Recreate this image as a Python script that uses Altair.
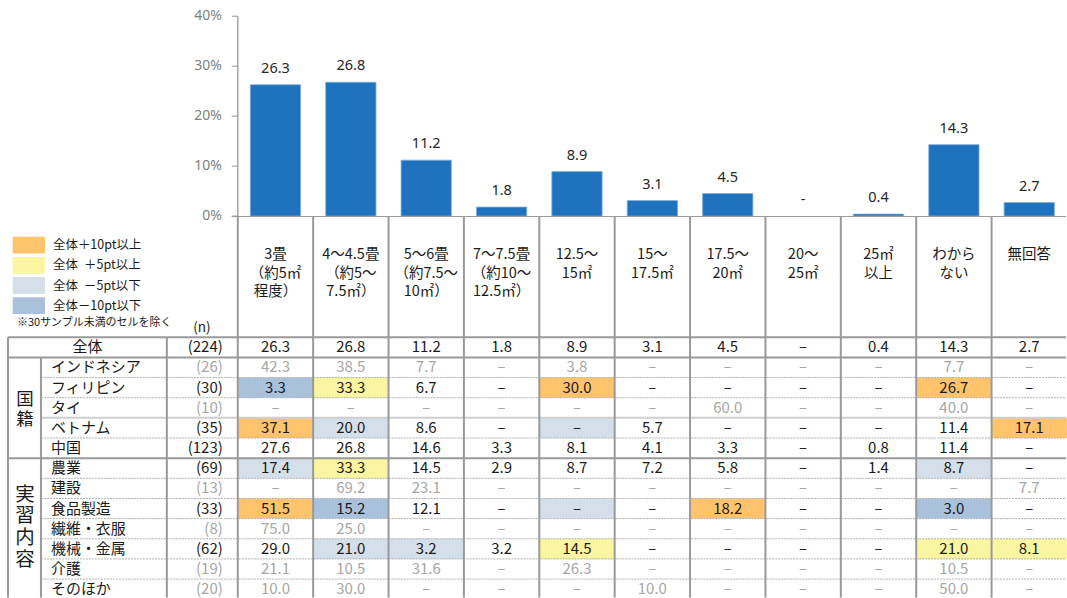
import altair as alt
import pandas as pd

# ---------------- data ----------------
col_labels = [
    ["3畳", "（約5㎡", "程度）"],
    ["4～4.5畳", "（約5～", "7.5㎡）"],
    ["5～6畳", "（約7.5～", "10㎡）"],
    ["7～7.5畳", "（約10～", "12.5㎡）"],
    ["12.5～", "15㎡"],
    ["15～", "17.5㎡"],
    ["17.5～", "20㎡"],
    ["20～", "25㎡"],
    ["25㎡", "以上"],
    ["わから", "ない"],
    ["無回答"],
]
total_label = "全体"
total_n = 224
total_values = [26.3, 26.8, 11.2, 1.8, 8.9, 3.1, 4.5, 0.0, 0.4, 14.3, 2.7]

group_labels = ["国籍", "実習内容"]
group_sizes = [5, 7]
row_labels = ["インドネシア", "フィリピン", "タイ", "ベトナム", "中国",
              "農業", "建設", "食品製造", "繊維・衣服", "機械・金属", "介護", "そのほか"]
row_n = [26, 30, 10, 35, 123, 69, 13, 33, 8, 62, 19, 20]
row_values = [
    [42.3, 38.5, 7.7, 0.0, 3.8, 0.0, 0.0, 0.0, 0.0, 7.7, 0.0],
    [3.3, 33.3, 6.7, 0.0, 30.0, 0.0, 0.0, 0.0, 0.0, 26.7, 0.0],
    [0.0, 0.0, 0.0, 0.0, 0.0, 0.0, 60.0, 0.0, 0.0, 40.0, 0.0],
    [37.1, 20.0, 8.6, 0.0, 0.0, 5.7, 0.0, 0.0, 0.0, 11.4, 17.1],
    [27.6, 26.8, 14.6, 3.3, 8.1, 4.1, 3.3, 0.0, 0.8, 11.4, 0.0],
    [17.4, 33.3, 14.5, 2.9, 8.7, 7.2, 5.8, 0.0, 1.4, 8.7, 0.0],
    [0.0, 69.2, 23.1, 0.0, 0.0, 0.0, 0.0, 0.0, 0.0, 0.0, 7.7],
    [51.5, 15.2, 12.1, 0.0, 0.0, 0.0, 18.2, 0.0, 0.0, 3.0, 0.0],
    [75.0, 25.0, 0.0, 0.0, 0.0, 0.0, 0.0, 0.0, 0.0, 0.0, 0.0],
    [29.0, 21.0, 3.2, 3.2, 14.5, 0.0, 0.0, 0.0, 0.0, 21.0, 8.1],
    [21.1, 10.5, 31.6, 0.0, 26.3, 0.0, 0.0, 0.0, 0.0, 10.5, 0.0],
    [10.0, 30.0, 0.0, 0.0, 0.0, 10.0, 0.0, 0.0, 0.0, 50.0, 0.0],
]
y_ticks = [0, 10, 20, 30, 40]
legend_labels = ["全体＋10pt以上", "全体\u2002＋5pt以上", "全体\u2002－5pt以下", "全体－10pt以下"]
legend_colors = ["#FFC36B", "#FAF5A0", "#D5DFE9", "#AAC1DC"]
legend_limits = [10, 5, -5, -10]
min_n = 30
note_text = "※30サンプル未満のセルを除く"
n_header = "(n)"

# ---------------- layout (pixels -> scale units) ----------------
W = 1067
TOP_H = 216
BOT_H = 382
X0 = 238.0      # left edge of first answer column
COL_W = 75.45
Y0 = 337.3      # top of the 全体 row
ROW_H = 20.17
PX_PER_PCT = 5.0
JP = "Noto Sans CJK JP"
BLACK = "#1a1a1a"
GRAY = "#a6a6a6"
LINE = "#9a9a9a"


def ux(px):
    return (px - X0) / COL_W


def uy(py):
    return (py - Y0) / ROW_H


x_dom = [ux(0), ux(W)]
xs = alt.Scale(domain=x_dom, nice=False, zero=False)
yts = alt.Scale(domain=[0, TOP_H / PX_PER_PCT], nice=False, zero=False)
ybs = alt.Scale(domain=[uy(TOP_H), uy(TOP_H + BOT_H)], nice=False, zero=False, reverse=True)


def X(f):
    return alt.X(f, scale=xs, axis=None)


def YT(f):
    return alt.Y(f, scale=yts, axis=None)


def YB(f):
    return alt.Y(f, scale=ybs, axis=None)


ncol = len(total_values)

# ---------------- top: bar chart ----------------
bar_frac = 0.667
bars_df = pd.DataFrame({"i": list(range(ncol)), "value": total_values})
bars_df["x1"] = bars_df["i"] + (1 - bar_frac) / 2
bars_df["x2"] = bars_df["i"] + 1 - (1 - bar_frac) / 2
bars_df["xc"] = bars_df["i"] + 0.5
bars_df["base"] = 0.0
bars_df["label"] = ["-" if v == 0 else f"{v:.1f}" for v in total_values]

bars = alt.Chart(bars_df).transform_filter("datum.value > 0").mark_rect(
    color="#1F73BE", stroke="#7FAEDC", strokeWidth=0.8).encode(
    x=X("x1:Q"), x2="x2:Q", y=YT("value:Q"), y2="base:Q")
bar_lbl = alt.Chart(bars_df).mark_text(dy=-16, fontSize=14.5, font="Noto Sans", color="#262626").encode(
    x=X("xc:Q"), y=YT("value:Q"), text="label:N")

ticks_df = pd.DataFrame({"t": y_ticks, "lab": [f"{t}%" for t in y_ticks]})
ticks_df["xa"] = -6 / COL_W
ticks_df["xb"] = 0.0
ticks_df["xl"] = ux(222)
tick_rules = alt.Chart(ticks_df).mark_rule(color="#a6a6a6", strokeWidth=1.2).encode(
    x=X("xa:Q"), x2="xb:Q", y=YT("t:Q"))
tick_text = alt.Chart(ticks_df).mark_text(align="right", baseline="middle", fontSize=14,
                                          font="Noto Sans", color="#7f7f7f").encode(
    x=X("xl:Q"), y=YT("t:Q"), text="lab:N")
axis_df = pd.DataFrame({"x": [0.0], "y1": [0.0], "y2": [float(max(y_ticks))]})
axis_line = alt.Chart(axis_df).mark_rule(color="#a6a6a6", strokeWidth=1.5).encode(
    x=X("x:Q"), y=YT("y1:Q"), y2="y2:Q")

top = alt.layer(bars, bar_lbl, tick_rules, tick_text, axis_line).properties(width=W, height=TOP_H)

# ---------------- bottom: table ----------------
# header lines
hdr = []
for c, lines in enumerate(col_labels):
    for k, t in enumerate(lines):
        hdr.append({"x": c + 0.5, "y": uy(255) + k * 18.7 / ROW_H, "t": t})
hdr_df = pd.DataFrame(hdr)
hdr_text = alt.Chart(hdr_df).mark_text(fontSize=14.5, font=JP, color=BLACK, baseline="middle").encode(
    x=X("x:Q"), y=YB("y:Q"), text="t:N")

# legend
leg_df = pd.DataFrame({"cat": legend_labels, "k": list(range(len(legend_labels)))})
leg_df["x1"] = ux(12.7)
leg_df["x2"] = ux(45)
leg_df["y1"] = uy(236.7) + leg_df["k"] * 20.2 / ROW_H
leg_df["y2"] = leg_df["y1"] + 16.8 / ROW_H
leg_df["tx"] = ux(53)
leg_df["ty"] = uy(245.1) + leg_df["k"] * 20.2 / ROW_H
cscale = alt.Scale(domain=legend_labels, range=legend_colors)
leg_box = alt.Chart(leg_df).mark_rect().encode(
    x=X("x1:Q"), x2="x2:Q", y=YB("y1:Q"), y2="y2:Q",
    color=alt.Color("cat:N", scale=cscale, legend=None))
leg_txt = alt.Chart(leg_df).mark_text(align="left", baseline="middle", fontSize=12.5, font=JP, color=BLACK).encode(
    x=X("tx:Q"), y=YB("ty:Q"), text="cat:N")

misc_df = pd.DataFrame({"t": [note_text, n_header], "x": [ux(17), ux(202)], "y": [uy(322.7), uy(328)]})
note_txt = alt.Chart(misc_df.iloc[[0]]).mark_text(align="left", baseline="middle", fontSize=11, font=JP,
                                                  color=BLACK).encode(x=X("x:Q"), y=YB("y:Q"), text="t:N")
n_txt = alt.Chart(misc_df.iloc[[1]]).mark_text(align="center", baseline="middle", fontSize=13.5, font=JP,
                                               color=BLACK).encode(x=X("x:Q"), y=YB("y:Q"), text="t:N")

# highlight cells
hl = []
for r, (n, vals) in enumerate(zip(row_n, row_values)):
    if n < min_n:
        continue
    for c, v in enumerate(vals):
        d = v - total_values[c]
        cat = None
        if d >= legend_limits[0]:
            cat = legend_labels[0]
        elif d >= legend_limits[1]:
            cat = legend_labels[1]
        elif d <= legend_limits[3]:
            cat = legend_labels[3]
        elif d <= legend_limits[2]:
            cat = legend_labels[2]
        if cat:
            hl.append({"x1": c, "x2": c + 1, "y1": r + 1, "y2": r + 2, "cat": cat})
hl_df = pd.DataFrame(hl)
hl_rect = alt.Chart(hl_df).mark_rect().encode(
    x=X("x1:Q"), x2="x2:Q", y=YB("y1:Q"), y2="y2:Q",
    color=alt.Color("cat:N", scale=cscale, legend=None))

# grid lines
ybot = uy(TOP_H + BOT_H)
xl_border, xl_group, xl_n = ux(8), ux(41), ux(167)
vlines = [{"x": float(c), "y1": uy(TOP_H), "y2": ybot} for c in range(ncol)]
vlines += [{"x": xl_border, "y1": 0.0, "y2": ybot},
           {"x": xl_group, "y1": 1.0, "y2": ybot},
           {"x": xl_n, "y1": 0.0, "y2": ybot}]
vl_df = pd.DataFrame(vlines)
vl = alt.Chart(vl_df).mark_rule(color=LINE, strokeWidth=2, clip=True).encode(
    x=X("x:Q"), y=YB("y1:Q"), y2="y2:Q")

n_rows = 1 + len(row_labels)
group_starts = [1]
for s in group_sizes[:-1]:
    group_starts.append(group_starts[-1] + s)
solid_y = [0, 1] + group_starts[1:]
hsol_df = pd.DataFrame({"y": [float(v) for v in solid_y], "x1": xl_border, "x2": x_dom[1]})
hsol_df = pd.concat([pd.DataFrame({"y": [uy(TOP_H)], "x1": [-6 / COL_W], "x2": [x_dom[1]]}), hsol_df])
hsol = alt.Chart(hsol_df).mark_rule(color=LINE, strokeWidth=2, clip=True).encode(
    x=X("x1:Q"), x2="x2:Q", y=YB("y:Q"))
light_y = [4]
dash_y = [y for y in range(2, n_rows) if y not in solid_y and y not in light_y]
hlight_df = pd.DataFrame({"y": [float(v) for v in light_y], "x1": xl_group, "x2": x_dom[1]})
hlight = alt.Chart(hlight_df).mark_rule(color="#cfcfcf", strokeWidth=2, clip=True).encode(
    x=X("x1:Q"), x2="x2:Q", y=YB("y:Q"))
hdash_df = pd.DataFrame({"y": [float(v) for v in dash_y], "x1": xl_group, "x2": x_dom[1]})
hdash = alt.Chart(hdash_df).mark_rule(color="#b0b0b0", strokeWidth=1, strokeDash=[2, 1], clip=True).encode(
    x=X("x1:Q"), x2="x2:Q", y=YB("y:Q"))

# values text
cells = []
all_rows = [(total_label, total_n, total_values)] + list(zip(row_labels, row_n, row_values))
for r, (lab, n, vals) in enumerate(all_rows):
    col = GRAY if n < min_n else BLACK
    for c, v in enumerate(vals):
        cells.append({"x": c + 0.5, "y": r + 0.5, "t": "–" if v == 0 else f"{v:.1f}", "col": col})
cells_df = pd.DataFrame(cells)
cell_txt = alt.Chart(cells_df).mark_text(fontSize=15, font=JP, baseline="middle").encode(
    x=X("x:Q"), y=YB("y:Q"), text="t:N", color=alt.Color("col:N", scale=None))

labs = []
for r, (lab, n, vals) in enumerate(all_rows):
    col = GRAY if n < min_n else BLACK
    labs.append({"y": r + 0.5, "lab": lab, "n": f"({n})", "col": col,
                 "lx": ux(87.5) if r == 0 else ux(51), "al": "center" if r == 0 else "left",
                 "nx": ux(223)})
labs_df = pd.DataFrame(labs)
lab_c = alt.Chart(labs_df[labs_df["al"] == "center"]).mark_text(align="center", fontSize=15, font=JP,
                                                               baseline="middle", color=BLACK).encode(
    x=X("lx:Q"), y=YB("y:Q"), text="lab:N")
lab_l = alt.Chart(labs_df[labs_df["al"] == "left"]).mark_text(align="left", fontSize=15, font=JP,
                                                             baseline="middle", color=BLACK).encode(
    x=X("lx:Q"), y=YB("y:Q"), text="lab:N")
n_lab = alt.Chart(labs_df).mark_text(align="right", fontSize=15, font=JP, baseline="middle").encode(
    x=X("nx:Q"), y=YB("y:Q"), text="n:N", color=alt.Color("col:N", scale=None))

# group labels (vertical, one character per line; first line placed so the block is centred)
grp_fs = [17.5, 19.5]
grp_lh = [20.0, 21.7]
grp_dy = [2.0, -1.5]
grp = []
for g, s, st, lh, dyp in zip(group_labels, group_sizes, group_starts, grp_lh, grp_dy):
    first = st + s / 2 + (dyp - (len(g) - 1) * lh / 2) / ROW_H
    grp.append({"t": "\n".join(list(g)), "y": first, "x": ux(25)})
grp_df = pd.DataFrame(grp)
grp1 = alt.Chart(grp_df.iloc[[0]]).mark_text(fontSize=grp_fs[0], lineHeight=grp_lh[0], lineBreak="\n", font=JP,
                                             baseline="middle", color=BLACK).encode(
    x=X("x:Q"), y=YB("y:Q"), text="t:N")
grp2 = alt.Chart(grp_df.iloc[[1]]).mark_text(fontSize=grp_fs[1], lineHeight=grp_lh[1], lineBreak="\n", font=JP,
                                             baseline="middle", color=BLACK).encode(
    x=X("x:Q"), y=YB("y:Q"), text="t:N")

bottom = alt.layer(hl_rect, leg_box, leg_txt, note_txt, n_txt, hdr_text, hdash, hlight, vl, hsol,
                   cell_txt, lab_c, lab_l, n_lab, grp1, grp2).properties(width=W, height=BOT_H)

chart = alt.vconcat(top, bottom, spacing=0, bounds="flush").properties(
    padding=0
).configure_view(stroke=None).configure_concat(spacing=0)

chart.save("out.html", embed_options={"renderer": "svg", "actions": False})
